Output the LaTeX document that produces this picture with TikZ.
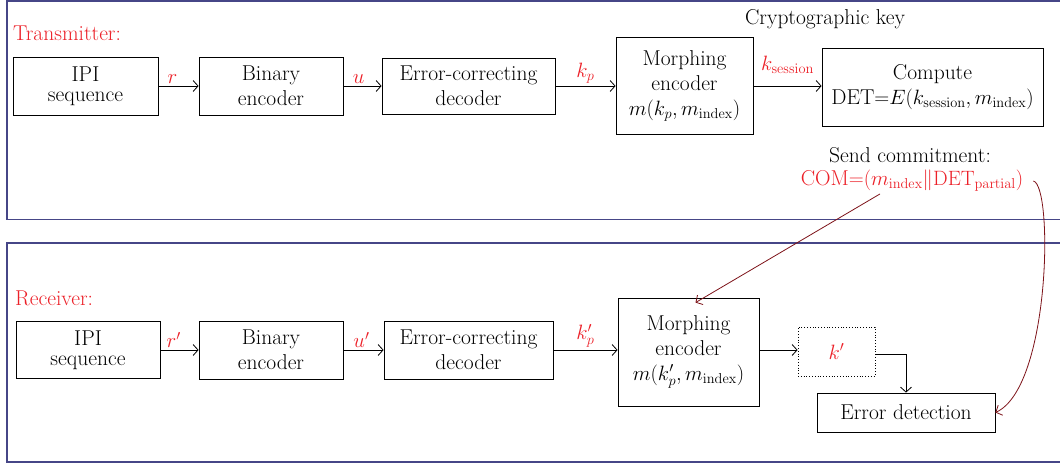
\documentclass[tikz,border=0pt]{standalone}
\usetikzlibrary{arrows.meta}
\definecolor{txred}{RGB}{236,32,40}
\definecolor{arrred}{RGB}{125,18,24}
\definecolor{frameblue}{RGB}{70,70,135}
\tikzset{
  blk/.style={draw,line width=0.8pt,align=center,inner sep=2pt},
  lbl/.style={text=txred,inner sep=2pt},
  flow/.style={-{Straight Barb[length=5pt,width=11pt]},line width=0.8pt},
  com/.style={-{Straight Barb[length=5pt,width=11pt]},line width=0.8pt,color=arrred},
  frame/.style={draw=frameblue,line width=1.2pt}
}
\begin{document}
\begin{tikzpicture}[x=1pt,y=-1pt,font=\fontsize{21.5}{25}\selectfont]
\useasboundingbox (0,0) rectangle (1060,463);
\clip (0,0) rectangle (1060,463);
\draw[frame] (1070,1) -- (7,1) -- (7,219.5) -- (1070,219.5);
\draw[frame] (1070,243) -- (7,243) -- (7,462) -- (1070,462);
% transmitter
\node[lbl,anchor=west] (tx) at (11,33) {Transmitter:};
\node[blk,minimum width=145pt,minimum height=58pt] (ipiT) at (85.5,86) {IPI\\[-5pt]sequence};
\node[blk,minimum width=144pt,minimum height=58pt] (binT) at (271,86) {Binary\\encoder};
\node[blk,minimum width=173pt,minimum height=56pt] (eccT) at (468.5,86) {Error-correcting\\decoder};
\node[blk,minimum width=137pt,minimum height=97pt] (morT) at (684.5,86) {Morphing\\encoder\\$m(k_p,m_{\mathrm{index}})$};
\node[blk,minimum width=221pt,minimum height=78pt] (comp) at (932.5,87) {Compute\\DET${=}E(k_{\mathrm{session}},m_{\mathrm{index}})$};
\node (key) at (825,19) {Cryptographic key};
\node (send) at (910,155) {Send commitment:};
\node[lbl] (comm) at (912,181) {COM${=}(m_{\mathrm{index}}\|\mathrm{DET}_{\mathrm{partial}})$};
\draw[flow] (ipiT) -- node[lbl,above,pos=0.35]{$r$} (binT);
\draw[flow] (binT) -- node[lbl,above,pos=0.4]{$u$} (eccT);
\draw[flow] (eccT) -- node[lbl,above]{$k_p$} (morT);
\draw[flow] (morT.east) -- node[lbl,above,yshift=10pt]{$k_{\mathrm{session}}$} (morT.east -| comp.west);
% receiver
\node[lbl,anchor=west] (rx) at (13,298) {Receiver:};
\node[blk,minimum width=144pt,minimum height=57pt] (ipiR) at (88,350) {IPI\\[-5pt]sequence};
\node[blk,minimum width=144pt,minimum height=58pt] (binR) at (271,350) {Binary\\encoder};
\node[blk,minimum width=169pt,minimum height=58pt] (eccR) at (468.5,350) {Error-correcting\\decoder};
\node[blk,minimum width=141pt,minimum height=108pt] (morR) at (688.5,352) {Morphing\\encoder\\$m(k'_p,m_{\mathrm{index}})$};
\node[draw,dotted,line width=0.8pt,minimum width=77pt,minimum height=49pt,text=txred] (kbox) at (836.5,351.5) {$k'$};
\node[blk,minimum width=178pt,minimum height=39pt] (errd) at (906,412.5) {Error detection};
\draw[flow] (ipiR) -- node[lbl,above,pos=0.35]{$r'$} (binR);
\draw[flow] (binR) -- node[lbl,above,pos=0.45]{$u'$} (eccR);
\draw[flow] (eccR.east) -- node[lbl,above]{$k'_p$} (eccR.east -| morR.west);
\draw[flow] (eccR.east -| morR.east) -- (eccR.east -| kbox.west);
\draw[flow] ([yshift=-3pt]kbox.east) -| (errd.north);
% commitment
\draw[com] ([xshift=-32pt]comm.south) -- ([xshift=7pt,yshift=-5pt]morR.north);
\draw[com] ([xshift=8pt]comm.east) .. controls +(20,5) and +(55,-25) .. (errd.east);
\end{tikzpicture}
\end{document}
